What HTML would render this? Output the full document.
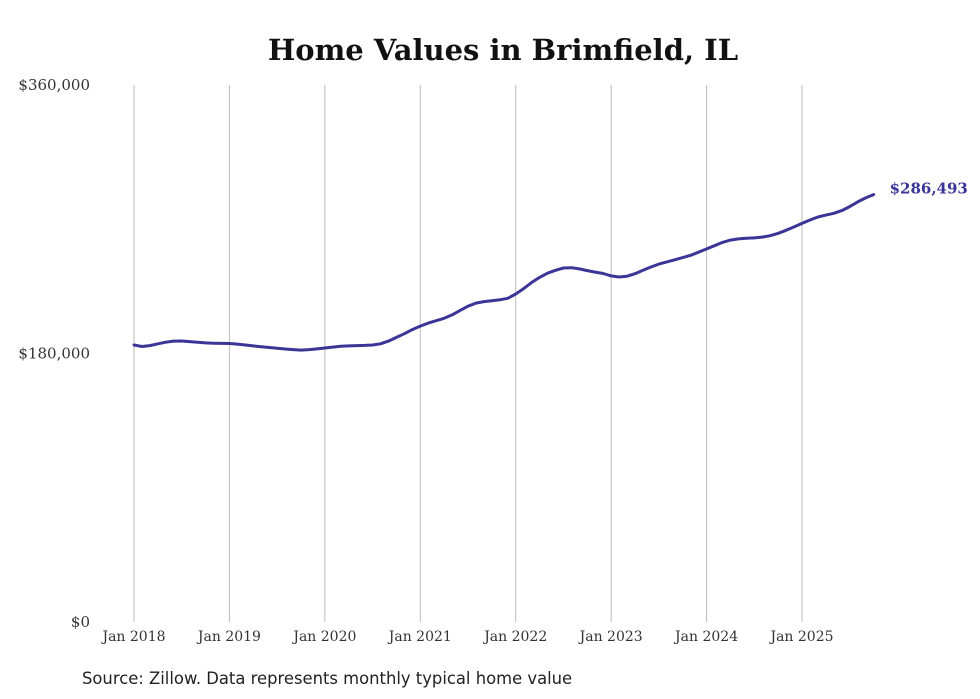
<!DOCTYPE html>
<html><head><meta charset="utf-8"><style>
body{margin:0;background:#fff;}
svg{display:block;}
</style></head><body>
<svg id="chart" width="980" height="699">
<text x="503" y="60" text-anchor="middle" font-family="'DejaVu Serif',serif" font-weight="bold" font-size="29" fill="#111">Home Values in Brimfield, IL</text>
<g id="grid"></g><g id="yaxis"></g><g id="xaxis"></g><g id="series"></g>
<text x="82" y="684" font-family="'DejaVu Sans',sans-serif" font-size="16.4" fill="#222">Source: Zillow. Data represents monthly typical home value</text>
</svg>
<script>
const yearLabels=["Jan 2018","Jan 2019","Jan 2020","Jan 2021","Jan 2022","Jan 2023","Jan 2024","Jan 2025"];
const yTicks=[0,180000,360000];
const yTickLabels=["$0","$180,000","$360,000"];
const values=[185.7,184.7,185.3,186.5,187.6,188.3,188.4,188.0,187.5,187.1,186.9,186.8,
186.7,186.3,185.7,185.1,184.5,184.0,183.5,183.0,182.6,182.3,182.6,183.1,
183.7,184.3,184.8,185.1,185.3,185.4,185.7,186.5,188.3,190.8,193.3,196.0,
198.4,200.4,202.0,203.6,205.9,208.9,211.7,213.8,214.8,215.4,216.0,217.0,
219.9,223.5,227.6,231.0,233.8,235.8,237.3,237.5,236.7,235.6,234.6,233.6,
232.0,231.3,231.8,233.5,235.8,238.0,239.9,241.4,242.8,244.3,245.8,247.9,
250.1,252.3,254.5,256.0,256.8,257.2,257.5,258.0,259.0,260.6,262.6,264.9,
267.2,269.5,271.5,272.8,274.0,275.8,278.5,281.6,284.3,286.493];
const lastLabel="$286,493";
const NS="http://www.w3.org/2000/svg";
const x=m=>134+m*95.43/12;
const y=v=>622-v/360000*537;
function mk(tag,attrs,parent){const e=document.createElementNS(NS,tag);for(const k in attrs)e.setAttribute(k,attrs[k]);parent.appendChild(e);return e;}
const grid=document.getElementById('grid'),xa=document.getElementById('xaxis'),ya=document.getElementById('yaxis'),se=document.getElementById('series');
yearLabels.forEach((lab,i)=>{
 const l=mk('line',{x1:x(i*12),x2:x(i*12),y1:85,y2:622,stroke:'#bbb','stroke-width':1},grid);
 
 
 const t=mk('text',{x:x(i*12),y:641,'text-anchor':'middle','font-family':"'DejaVu Serif',serif",'font-size':14,fill:'#333'},xa);
 t.textContent=lab;
 
 
});
yTicks.forEach((v,i)=>{
 const t=mk('text',{x:90,y:y(v)+5,'text-anchor':'end','font-family':"'DejaVu Serif',serif",'font-size':15,fill:'#333'},ya);
 t.textContent=yTickLabels[i];
 
 
});
const d=values.map((v,i)=>(i?'L':'M')+x(i).toFixed(1)+','+y(v*1000).toFixed(1)).join(' ');
const p=mk('path',{d:d,fill:'none',stroke:'#3a3596','stroke-width':3,'stroke-linejoin':'round','stroke-linecap':'round'},se);


const li=values.length-1;
const lt=mk('text',{x:x(li)+16,y:y(values[li]*1000)-1,'font-family':"'DejaVu Serif',serif",'font-weight':'bold','font-size':15,fill:'#3a3596'},se);
lt.textContent=lastLabel;


</script>
</body></html>
